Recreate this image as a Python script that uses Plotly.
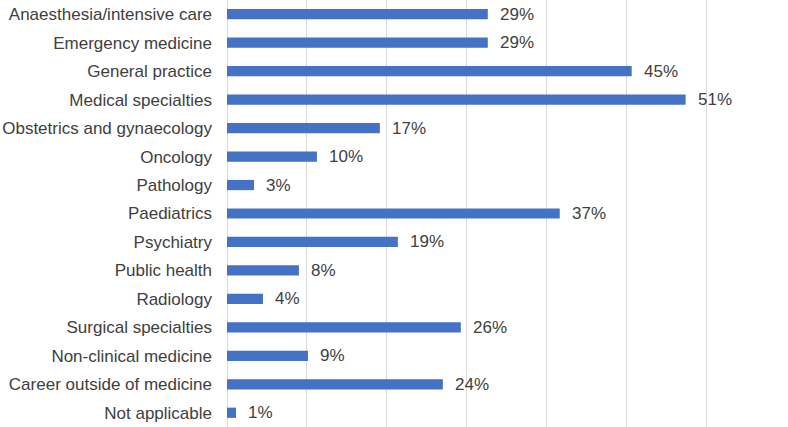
import plotly.graph_objects as go

categories = [
    "Anaesthesia/intensive care",
    "Emergency medicine",
    "General practice",
    "Medical specialties",
    "Obstetrics and gynaecology",
    "Oncology",
    "Pathology",
    "Paediatrics",
    "Psychiatry",
    "Public health",
    "Radiology",
    "Surgical specialties",
    "Non-clinical medicine",
    "Career outside of medicine",
    "Not applicable",
]
percent_values = [29, 29, 45, 51, 17, 10, 3, 37, 19, 8, 4, 26, 9, 24, 1]
value_labels = [f"{v}%" for v in percent_values]

FONT = "Liberation Sans, Arial, sans-serif"
TEXT_COLOR = "#404040"
BAR_COLOR = "#4472C4"
GRID_COLOR = "#D9D9D9"

px_per_unit = 9.0
dtick = 80 / px_per_unit

fig = go.Figure()
fig.add_trace(go.Bar(
    y=categories,
    x=percent_values,
    orientation="h",
    marker=dict(color=BAR_COLOR, line=dict(width=0)),
    hoverinfo="skip",
))

for cat, v, lab in zip(categories, percent_values, value_labels):
    fig.add_annotation(
        x=v, y=cat, text=lab, showarrow=False,
        xanchor="left", yanchor="middle", xshift=10,
        font=dict(family=FONT, size=17, color=TEXT_COLOR),
    )

fig.update_layout(
    width=788, height=427,
    margin=dict(l=227, r=1, t=0, b=0, autoexpand=False),
    paper_bgcolor="white", plot_bgcolor="white",
    bargap=0.64,
    showlegend=False,
    xaxis=dict(
        range=[0, 7 * dtick + 0.05],
        dtick=dtick, tick0=0,
        showgrid=True, gridcolor=GRID_COLOR, gridwidth=1.3,
        zeroline=True, zerolinecolor=GRID_COLOR, zerolinewidth=1.3,
        showticklabels=False, showline=False, fixedrange=True,
        automargin=False,
    ),
    yaxis=dict(
        autorange="reversed",
        tickfont=dict(family=FONT, size=17, color=TEXT_COLOR),
        ticklabelstandoff=14,
        showgrid=False, showline=False, zeroline=False,
        automargin=False, fixedrange=True,
    ),
)

fig.write_html(
    "out.html",
    config={"displayModeBar": False},
    post_script="document.body.style.margin='0';document.body.style.padding='0';",
)
